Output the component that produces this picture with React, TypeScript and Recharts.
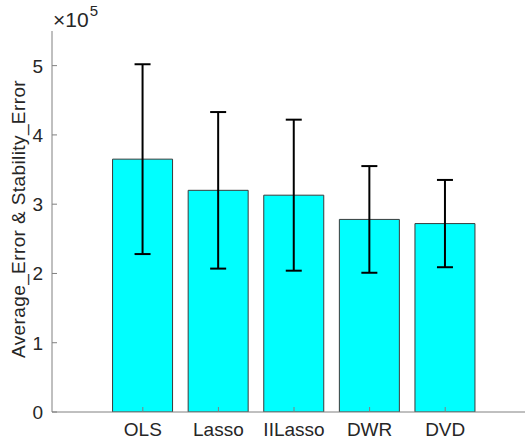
import React from "react"
import { BarChart, Bar, XAxis, YAxis, ErrorBar, Label } from "recharts"

const methods = ["OLS", "Lasso", "IILasso", "DWR", "DVD"]
const avgError = [365000, 320000, 313000, 278000, 272000]
const stabilityError = [137000, 113000, 109000, 77000, 63000]
const yTicks = [0, 100000, 200000, 300000, 400000, 500000]

const FONT = '"Liberation Sans", Arial, Helvetica, sans-serif'
const TEXT = "#262626"
const AXIS = "#808080"

const data = methods.map((m, i) => ({ name: m, value: avgError[i], err: stabilityError[i] }))

const XTick = (props: any) => {
  const { x, y, payload } = props
  return (
    <g>
      <line x1={x} x2={x} y1={y} y2={y - 5} stroke={AXIS} />
      <text x={x} y={y + 24} textAnchor="middle" fill={TEXT} fontSize={19} fontFamily={FONT}>
        {payload.value}
      </text>
    </g>
  )
}

const YTick = (props: any) => {
  const { x, y, payload } = props
  return (
    <g>
      <line x1={x} x2={x + 5} y1={y} y2={y} stroke={AXIS} />
      <text x={x - 9} y={y + 7} textAnchor="end" fill={TEXT} fontSize={19} fontFamily={FONT}>
        {payload.value / 100000}
      </text>
    </g>
  )
}

export default function App() {
  return (
    <div style={{ position: "absolute", left: 0, top: 0, width: 525, height: 439, background: "#fff" }}>
      <BarChart width={525} height={439} data={data} margin={{ top: 31, right: 0, left: 0, bottom: 0 }}>
        <XAxis
          dataKey="name"
          height={27}
          padding={{ left: 53, right: 42 }}
          tickSize={0}
          tickMargin={0}
          tick={<XTick />}
          axisLine={{ stroke: AXIS }}
          interval={0}
        />
        <XAxis
          xAxisId="top"
          dataKey="name"
          orientation="top"
          height={0}
          mirror
          padding={{ left: 53, right: 42 }}
          tick={false}
          tickSize={5}
          tickLine={{ stroke: AXIS }}
          axisLine={{ stroke: AXIS }}
          interval={0}
        />
        <YAxis
          width={52}
          domain={[0, 550000]}
          ticks={yTicks}
          tickSize={0}
          tickMargin={0}
          tick={<YTick />}
          axisLine={{ stroke: AXIS }}
          allowDataOverflow
        >
          <Label
            content={() => (
              <text
                x={25}
                y={219}
                transform="rotate(-90 25 219)"
                textAnchor="middle"
                fill={TEXT}
                fontSize={19}
                fontFamily={FONT}
                letterSpacing={0.4}
              >
                Average_Error &amp; Stability_Error
              </text>
            )}
          />
        </YAxis>
        <Bar dataKey="value" fill="#00FFFF" stroke="#3a3a3a" strokeWidth={1} isAnimationActive={false}>
          <ErrorBar dataKey="err" width={8} strokeWidth={2} stroke="#000" direction="y" />
        </Bar>
      </BarChart>
      <svg width={120} height={30} style={{ position: "absolute", left: 0, top: 0 }}>
        <text x={53} y={27} fill={TEXT} fontSize={21} fontFamily={FONT}>
          ×10
          <tspan dx={1} dy={-11} fontSize={15}>5</tspan>
        </text>
      </svg>
    </div>
  )
}
